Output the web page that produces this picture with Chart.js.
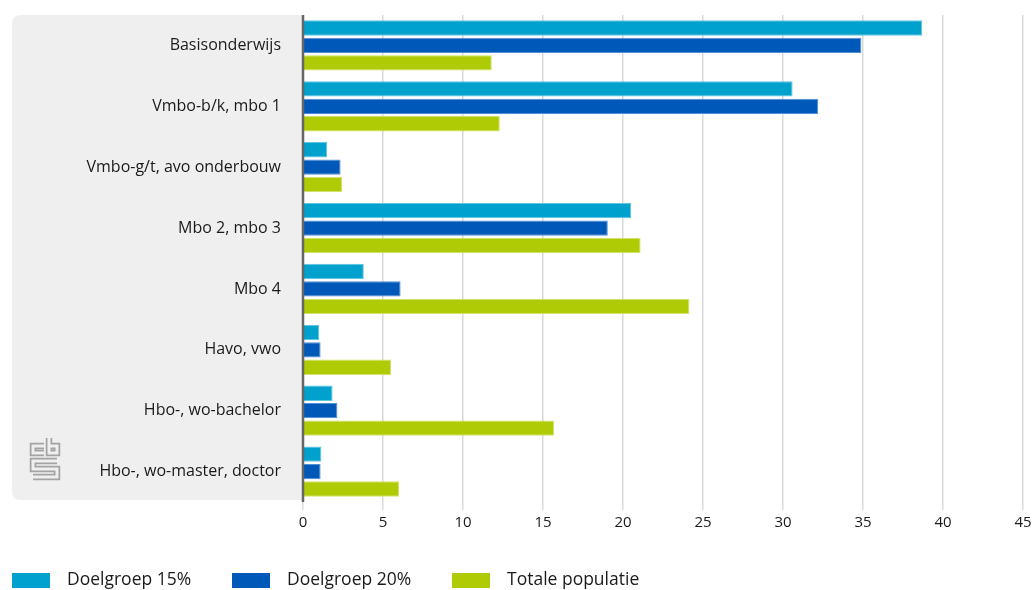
<!DOCTYPE html>
<html><head><meta charset="utf-8">
<script src="https://cdn.jsdelivr.net/npm/chart.js@4/dist/chart.umd.min.js"></script>
<style>html,body{margin:0;padding:0;background:#fff;}#wrap{width:1033px;height:590px;position:relative;}</style>
</head><body><div id="wrap"><canvas id="c" width="1033" height="590"></canvas></div>
<script>
const categories = ["Basisonderwijs","Vmbo-b/k, mbo 1","Vmbo-g/t, avo onderbouw","Mbo 2, mbo 3","Mbo 4","Havo, vwo","Hbo-, wo-bachelor","Hbo-, wo-master, doctor"];
const seriesNames = ["Doelgroep 15%","Doelgroep 20%","Totale populatie"];
const doelgroep15 = [38.7, 30.6, 1.5, 20.5, 3.8, 1.0, 1.85, 1.15];
const doelgroep20 = [34.9, 32.2, 2.35, 19.05, 6.1, 1.1, 2.15, 1.1];
const totale = [11.8, 12.3, 2.45, 21.1, 24.15, 5.5, 15.7, 6.0];
const xTicks = [0,5,10,15,20,25,30,35,40,45];
const colors = ["#00a1cd","#0058b8","#afcb05"];
const borders = ["#5cc6e3","#4f8fd6","#d3e36a"];
const FONT = "'Open Sans', 'DejaVu Sans', sans-serif";

const panelPlugin = {
  id:'panel',
  beforeDraw(chart){
    const {ctx, chartArea:a} = chart;
    const x0 = 12, y0 = a.top, x1 = a.left, y1 = a.bottom - 2, r = 9;
    ctx.save();
    ctx.fillStyle = '#efefef';
    ctx.beginPath();
    ctx.moveTo(x1, y0);
    ctx.lineTo(x0 + r, y0);
    ctx.quadraticCurveTo(x0, y0, x0, y0 + r);
    ctx.lineTo(x0, y1 - r);
    ctx.quadraticCurveTo(x0, y1, x0 + r, y1);
    ctx.lineTo(x1, y1);
    ctx.closePath();
    ctx.fill();
    // cbs logo
    const paths = [
      [[44,446],[33,446],[33,453],[44,453]],
      [[49,438],[49,453],[57,453],[57,446],[49,446]],
      [[57,461],[33,461],[33,469],[57,469],[57,477],[33,477]]
    ];
    ctx.lineJoin='miter';
    ctx.lineCap='butt';
    for (const [w,c] of [[6.5,'#a3a3a3'],[3,'#efefef']]) {
      ctx.lineWidth = w; ctx.strokeStyle = c;
      for (const p of paths) {
        ctx.beginPath(); ctx.moveTo(p[0][0],p[0][1]);
        for (let i=1;i<p.length;i++) ctx.lineTo(p[i][0],p[i][1]);
        ctx.stroke();
      }
    }
    ctx.restore();
  },
  afterDatasetsDraw(chart){
    const {ctx, chartArea:a} = chart;
    const x = chart.scales.x.getPixelForValue(0);
    ctx.save();
    ctx.strokeStyle = '#666666';
    ctx.lineWidth = 2.5;
    ctx.beginPath(); ctx.moveTo(x, a.top); ctx.lineTo(x, a.bottom); ctx.stroke();
    ctx.restore();
  },
  afterDraw(chart){
    const {ctx} = chart;
    ctx.save();
    const xs = [12, 232, 452];
    ctx.font = "17.5px " + FONT;
    ctx.textBaseline = 'middle';
    chart.data.datasets.forEach((ds,i)=>{
      ctx.fillStyle = ds.backgroundColor;
      ctx.fillRect(xs[i], 573, 38, 15);
      ctx.fillStyle = '#1a1a1a';
      ctx.fillText(ds.label, xs[i] + 55, 580);
    });
    ctx.restore();
  }
};

new Chart(document.getElementById('c'), {
  type:'bar',
  data:{
    labels: categories,
    datasets:[
      {label:seriesNames[0], data:doelgroep15, backgroundColor:colors[0], borderColor:borders[0], borderWidth:1},
      {label:seriesNames[1], data:doelgroep20, backgroundColor:colors[1], borderColor:borders[1], borderWidth:1},
      {label:seriesNames[2], data:totale, backgroundColor:colors[2], borderColor:borders[2], borderWidth:1}
    ]
  },
  options:{
    indexAxis:'y',
    responsive:false,
    animation:false,
    categoryPercentage:0.86,
    barPercentage:0.88,
    layout:{padding:{top:15,right:0,bottom:54,left:0}},
    plugins:{legend:{display:false}, tooltip:{enabled:false}},
    scales:{
      x:{
        min:0, max:45,
        afterBuildTicks(s){ s.ticks = xTicks.map(v=>({value:v})); },
        afterFit(s){ s.paddingRight = 10; s.paddingLeft = 0; },
        grid:{color:'#d9d9d9', lineWidth:1.5, drawTicks:true, tickLength:8, tickColor:'#d9d9d9'},
        border:{display:false},
        ticks:{color:'#1a1a1a', font:{family:FONT, size:15}, padding:4, maxRotation:0}
      },
      y:{
        afterFit(s){ s.width = 303; s.paddingTop = 0; s.paddingBottom = 0; },
        grid:{display:false, drawTicks:false},
        border:{display:false},
        ticks:{color:'#1a1a1a', font:{family:FONT, size:16}, padding:22}
      }
    }
  },
  plugins:[panelPlugin]
});
</script></body></html>
